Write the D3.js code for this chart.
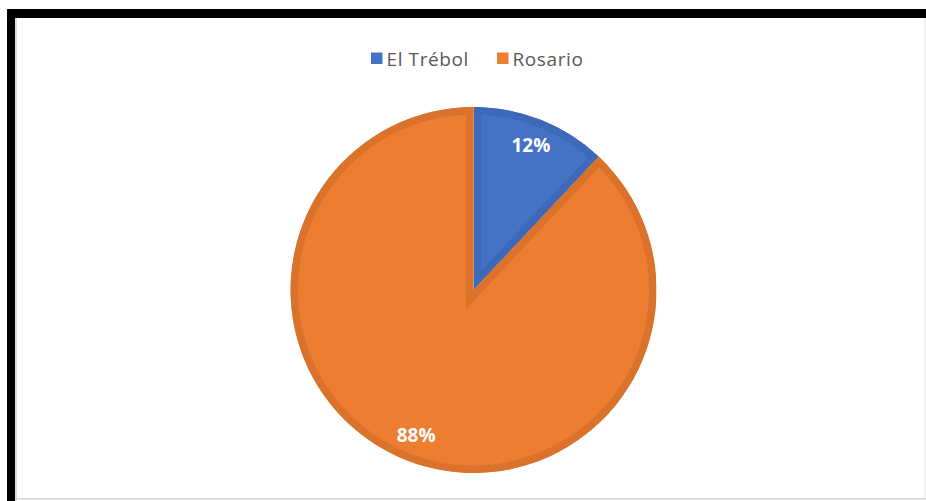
<!DOCTYPE html>
<html>
<head>
<meta charset="utf-8">
<script src="https://cdn.jsdelivr.net/npm/d3@7"></script>
<style>
html,body{margin:0;padding:0;background:#fff;}
svg{display:block;}
</style>
</head>
<body>
<svg id="chart" width="926" height="501"></svg>
<script>
const categories = ["El Trébol", "Rosario"];
const values = [12, 88];
const labels = ["12%", "88%"];
const fills = ["#4472C4", "#ED7D31"];
const edges = ["#3D69B8", "#DA722B"];

const svg = d3.select("#chart");

// frame
svg.append("rect").attr("x", 7).attr("y", 9).attr("width", 919).attr("height", 9).attr("fill", "#000");
svg.append("rect").attr("x", 7).attr("y", 9).attr("width", 8).attr("height", 492).attr("fill", "#000");
svg.append("rect").attr("x", 15).attr("y", 18).attr("width", 2).attr("height", 483).attr("fill", "#dcdcdc");
svg.append("rect").attr("x", 15).attr("y", 498).attr("width", 911).attr("height", 1.5).attr("fill", "#d4d4d4");
svg.append("rect").attr("x", 924.5).attr("y", 18).attr("width", 1).attr("height", 480).attr("fill", "#e6e6e6");

const cx = 473.5, cy = 290, r = 183;
const pie = d3.pie().sort(null).value(d => d.v);
const arcs = pie(categories.map((c, i) => ({c, v: values[i], i})));
const arc = d3.arc().innerRadius(0).outerRadius(r);
const labelArc = d3.arc().innerRadius(156).outerRadius(156);

const g = svg.append("g").attr("transform", `translate(${cx},${cy})`);
const defs = svg.append("defs");
arcs.forEach((a, k) => {
  defs.append("clipPath").attr("id", "clip" + k).append("path").attr("d", arc(a));
});
g.selectAll("path.slice").data(arcs).join("path")
  .attr("class", "slice")
  .attr("d", arc)
  .attr("fill", d => fills[d.data.i])
  .attr("stroke", d => edges[d.data.i])
  .attr("stroke-width", 15)
  .attr("stroke-linejoin", "miter")
  .attr("clip-path", (d, k) => `url(#clip${k})`);

g.selectAll("text.lbl").data(arcs).join("text")
  .attr("class", "lbl")
  .attr("transform", d => `translate(${labelArc.centroid(d)})`)
  .attr("text-anchor", "middle")
  .attr("dy", "0.36em")
  .attr("font-family", "'Open Sans', sans-serif")
  .attr("font-weight", "bold")
  .attr("font-size", 19)
  .attr("fill", "#fff")
  .text(d => labels[d.data.i]);

// legend
const legendX = [371, 497];
const lg = svg.append("g");
categories.forEach((c, i) => {
  lg.append("rect").attr("x", legendX[i]).attr("y", 52.5).attr("width", 11.5).attr("height", 11.5).attr("fill", fills[i]);
  lg.append("text").attr("x", legendX[i] + 15.5).attr("y", 66)
    .attr("font-family", "'Open Sans', sans-serif")
    .attr("font-size", 19)
    .attr("letter-spacing", 0.6)
    .attr("fill", "#595959")
    .text(c);
});
</script>
</body>
</html>
